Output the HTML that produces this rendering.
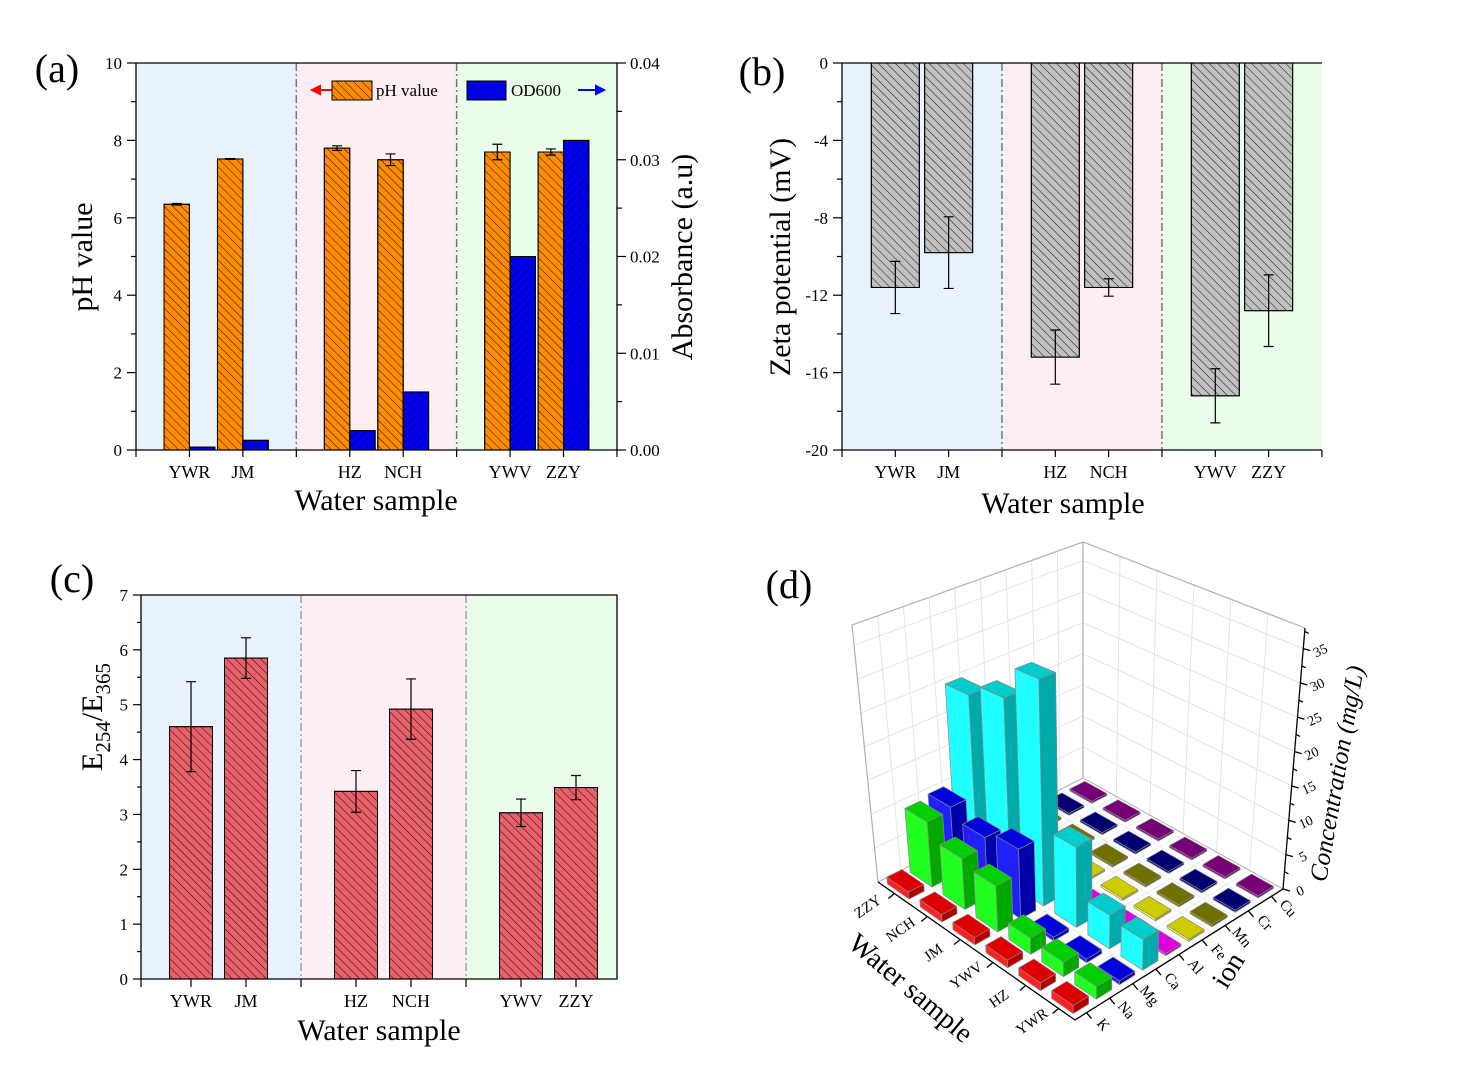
<!DOCTYPE html>
<html><head><meta charset="utf-8"><style>
html,body{margin:0;padding:0;background:#fff;}
svg{display:block;font-family:"Liberation Serif",serif;}
</style></head><body>
<svg id="chart" width="1463" height="1071" viewBox="0 0 1463 1071" xmlns="http://www.w3.org/2000/svg">
<defs>
<pattern id="hatchBack" patternUnits="userSpaceOnUse" width="6" height="6" patternTransform="rotate(-45)"><line x1="0" y1="0" x2="0" y2="6" stroke="#000" stroke-width="0.9"/></pattern>
<pattern id="hatchFwd" patternUnits="userSpaceOnUse" width="6" height="6" patternTransform="rotate(45)"><line x1="0" y1="0" x2="0" y2="6" stroke="#000040" stroke-width="0.9"/></pattern>
</defs>
</svg>
<script>
// ---------- data ----------
const samples2d = ['YWR','JM','HZ','NCH','YWV','ZZY'];
const catSlots = [1,2,4,5,7,8];
const phValues = [6.35,7.52,7.8,7.5,7.7,7.7];
const phErr = [0.02,0.01,0.06,0.15,0.2,0.08];
const odValues = [0.0003,0.001,0.002,0.006,0.02,0.032];
const phTicks = [0,2,4,6,8,10];
const odTicks = [0,0.01,0.02,0.03,0.04];
const zetaValues = [-11.6,-9.8,-15.2,-11.6,-17.2,-12.8];
const zetaErr = [1.35,1.85,1.4,0.45,1.4,1.85];
const zetaTicks = [0,-4,-8,-12,-16,-20];
const eRatioValues = [4.6,5.85,3.42,4.92,3.03,3.49];
const eRatioErr = [0.82,0.37,0.38,0.55,0.25,0.22];
const eRatioTicks = [0,1,2,3,4,5,6,7];
const samples3d = ['YWR','HZ','YWV','JM','NCH','ZZY'];
const ions = ['K','Na','Mg','Ca','Al','Fe','Mn','Cr','Cu'];
const concK  = [1,1,1,1,1,1];
const concNa = [1.6,1.9,2.2,6.3,7.2,9.5];
const concMg = [0.5,0.5,0.5,9.7,8.5,10];
const concCa = [4,4.5,11,32,27,25];
const concAl = [0.3,0.3,0.3,0.3,0.3,0.3];
const concFe = [0.3,0.3,0.3,0.3,0.3,0.3];
const concMn = [0.3,0.3,0.3,0.3,0.3,0.3];
const concCr = [0.3,0.3,0.3,0.3,0.3,0.3];
const concCu = [0.3,0.3,0.3,0.3,0.3,0.3];
const zTicks = [0,5,10,15,20,25,30,35];

const NS='http://www.w3.org/2000/svg';
const svg=document.getElementById('chart');
function mk(tag,parent,attrs,txt){const e=document.createElementNS(NS,tag);for(const k in attrs)e.setAttribute(k,attrs[k]);if(txt!==undefined)e.textContent=txt;parent.appendChild(e);return e;}
function grp(name){const g=mk('g',svg,{});


return g;}

function panel2d(o){
  const g=grp(o.name);
  const X=p=>o.x0+(p-o.p0)*o.unit;
  const bgCols=['#e8f2fd','#fdeef5','#eafdea'];
  const bgEdges=[o.left,X(3),X(6),o.right];
  for(let k=0;k<3;k++){const r=mk('rect',g,{x:bgEdges[k],y:o.top,width:bgEdges[k+1]-bgEdges[k],height:o.bottom-o.top,fill:bgCols[k]});
    
    }
  [3,6].forEach(p=>{const l=mk('line',g,{x1:X(p),x2:X(p),y1:o.top,y2:o.bottom,stroke:'#777','stroke-width':o.divW,'stroke-dasharray':'8,3,2,3'});
    
    });
  return {g,X};
}
function errBar(g,x,y1,y2){
  const e=mk('path',g,{d:`M${x},${y1}V${y2}M${x-5},${y1}H${x+5}M${x-5},${y2}H${x+5}`,stroke:'#000','stroke-width':1.2,fill:'none'});
  
  
}
function txt(parent,x,y,s,size,anchor,name,extra){
  const t=mk('text',parent,Object.assign({x:x,y:y,'font-size':size,'text-anchor':anchor||'middle',fill:'#000'},extra||{}),s);
  
  
  return t;
}

// ===== Panel (a) =====
(function(){
  const o={name:'panel-a',x0:136,p0:0,unit:53.44,left:136,right:617,top:63,bottom:450,divW:1.5};
  const {g,X}=panel2d(o);
  const Y=v=>450-v/10*387;
  const Y2=v=>450-v/0.04*387;
  const bw=25.4;
  samples2d.forEach((s,k)=>{
    const c=X(catSlots[k]);
    [['#ff8c00','hatchBack',Y(phValues[k]),'ph-bar'],['#0000ee','hatchFwd',Y2(odValues[k]),'od600-bar']].forEach((b,j)=>{
      const x=j===0?c-bw:c;
      const r=mk('rect',g,{x:x,y:b[2],width:bw,height:450-b[2],fill:b[0],stroke:'#000','stroke-width':1});
      
      
      const h=mk('rect',g,{x:x,y:b[2],width:bw,height:450-b[2],fill:'url(#'+b[1]+')',stroke:'#000','stroke-width':1});
      
      
    });
    errBar(g,c-bw/2,Y(phValues[k]+phErr[k]),Y(phValues[k]-phErr[k]));
    txt(g,c,478,s,18,'middle','x-tick-label');
  });
  const ax=mk('path',g,{d:'M136,63V450H617V63M136,63H617',stroke:'#000','stroke-width':1.3,fill:'none'});
  
  
  for(let v=0;v<=10;v+=1){const l=mk('line',g,{x1:136,x2:v%2?131:127,y1:Y(v),y2:Y(v),stroke:'#000','stroke-width':1.2});
    
    }
  phTicks.forEach(v=>txt(g,122,Y(v)+6,String(v),17,'end','y-tick-label'));
  for(let v=0;v<=0.04001;v+=0.005){const l=mk('line',g,{x1:617,x2:Math.round(v*1000)%10?622:626,y1:Y2(v),y2:Y2(v),stroke:'#000','stroke-width':1.2});
    
    }
  odTicks.forEach(v=>txt(g,630,Y2(v)+6,v.toFixed(2),17,'start','y2-tick-label'));
  for(let p=0;p<=9;p++){const l=mk('line',g,{x1:X(p),x2:X(p),y1:450,y2:457,stroke:'#000','stroke-width':1.2});
    
    }
  txt(g,376,510,'Water sample',30,'middle','x-axis-title');
  txt(g,0,0,'pH value',30,'middle','y-axis-title',{transform:'translate(92,257) rotate(-90)'});
  txt(g,0,0,'Absorbance (a.u)',30,'middle','y2-axis-title',{transform:'translate(692,257) rotate(-90)'});
  txt(g,57,82,'(a)',40,'middle','panel-label');
  const lg=mk('g',g,{});
  
  
  const a1=mk('path',lg,{d:'M332,90H312M312,90l8,-4v8z',stroke:'#f00','stroke-width':2,fill:'#f00'});
  
  
  const b1=mk('rect',lg,{x:332,y:81,width:40,height:19,fill:'#ff8c00',stroke:'#000'});
  
  
  const b1h=mk('rect',lg,{x:332,y:81,width:40,height:19,fill:'url(#hatchBack)',stroke:'#000'});
  
  
  txt(lg,376,96,'pH value',17,'start','legend-entry-ph');
  const b2=mk('rect',lg,{x:467,y:81,width:39,height:19,fill:'#0000ee',stroke:'#000'});
  
  
  const b2h=mk('rect',lg,{x:467,y:81,width:39,height:19,fill:'url(#hatchFwd)',stroke:'#000'});
  
  
  txt(lg,511,96,'OD600',17,'start','legend-entry-od600');
  const a2=mk('path',lg,{d:'M578,90H604M604,90l-8,-4v8z',stroke:'#00f','stroke-width':2,fill:'#00f'});
  
  
})();

// ===== Panel (b) =====
(function(){
  const o={name:'panel-b',x0:842,p0:0,unit:53.33,left:842,right:1322,top:63,bottom:450,divW:1.5};
  const {g,X}=panel2d(o);
  const Y=v=>63+(-v)/20*387;
  const bw=48;
  samples2d.forEach((s,k)=>{
    const c=X(catSlots[k]);const y=Y(zetaValues[k]);
    const r=mk('rect',g,{x:c-bw/2,y:63,width:bw,height:y-63,fill:'#c0c0c0',stroke:'#000','stroke-width':1});
    
    
    const h=mk('rect',g,{x:c-bw/2,y:63,width:bw,height:y-63,fill:'url(#hatchBack)',stroke:'#000','stroke-width':1});
    
    
    errBar(g,c,Y(zetaValues[k]+zetaErr[k]),Y(zetaValues[k]-zetaErr[k]));
    txt(g,c,478,s,18,'middle','x-tick-label');
  });
  const ax=mk('path',g,{d:'M1322,63H842V450H1322',stroke:'#000','stroke-width':1.3,fill:'none'});
  
  
  for(let v=0;v>=-20;v-=2){const l=mk('line',g,{x1:842,x2:v%4?837:833,y1:Y(v),y2:Y(v),stroke:'#000','stroke-width':1.2});
    
    }
  zetaTicks.forEach(v=>txt(g,828,Y(v)+6,String(v),17,'end','y-tick-label'));
  for(let p=0;p<=9;p++){const l=mk('line',g,{x1:X(p),x2:X(p),y1:450,y2:457,stroke:'#000','stroke-width':1.2});
    
    }
  txt(g,1063,513,'Water sample',30,'middle','x-axis-title');
  txt(g,0,0,'Zeta potential (mV)',30,'middle','y-axis-title',{transform:'translate(790,257) rotate(-90)'});
  txt(g,762,85,'(b)',40,'middle','panel-label');
})();

// ===== Panel (c) =====
(function(){
  const o={name:'panel-c',x0:191,p0:1,unit:55,left:141,right:617,top:595,bottom:979,divW:1};
  const {g,X}=panel2d(o);
  const Y=v=>979-v/7*384;
  const bw=43;
  samples2d.forEach((s,k)=>{
    const c=X(catSlots[k]);const y=Y(eRatioValues[k]);
    const r=mk('rect',g,{x:c-bw/2,y:y,width:bw,height:979-y,fill:'#e8606a',stroke:'#000','stroke-width':1});
    
    
    const h=mk('rect',g,{x:c-bw/2,y:y,width:bw,height:979-y,fill:'url(#hatchBack)',stroke:'#000','stroke-width':1});
    
    
    errBar(g,c,Y(eRatioValues[k]+eRatioErr[k]),Y(eRatioValues[k]-eRatioErr[k]));
    txt(g,c,1007,s,18,'middle','x-tick-label');
  });
  const ax=mk('path',g,{d:'M141,595V979H617V595H141',stroke:'#000','stroke-width':1.3,fill:'none'});
  
  
  for(let v=0;v<=7;v+=0.5){const l=mk('line',g,{x1:141,x2:v%1?137:133,y1:Y(v),y2:Y(v),stroke:'#000','stroke-width':1.2});
    
    }
  eRatioTicks.forEach(v=>txt(g,128,Y(v)+6,String(v),17,'end','y-tick-label'));
  [141,X(1),X(2),X(3),X(4),X(5),X(6),X(7),X(8)].forEach(x=>{const l=mk('line',g,{x1:x,x2:x,y1:979,y2:987,stroke:'#000','stroke-width':1.2});
    
    });
  txt(g,379,1040,'Water sample',30,'middle','x-axis-title');
  const t=mk('text',g,{'font-size':30,'text-anchor':'middle'});
  
  
  t.innerHTML='E<tspan font-size="21" dy="8">254</tspan><tspan dy="-8">/E</tspan><tspan font-size="21" dy="8">365</tspan>';
  t.setAttribute('transform','translate(102,717) rotate(-90)');
  txt(g,72,592,'(c)',40,'middle','panel-label');
})();

// ===== Panel (d) 3D =====
(function(){
  const g=grp('panel-d');
  const F=[1075,1020],L=[878,882],R=[1283,889],B=[1083,778];
  const Ft=[1074,711],Lt=[852,625],Rt=[1305,628],Bt=[1083,542];
  const NW=6,NI=9,ZMAX=38;
  function bil(P00,P10,P01,P11,a,b){return [P00[0]*(1-a)*(1-b)+P10[0]*a*(1-b)+P01[0]*(1-a)*b+P11[0]*a*b,P00[1]*(1-a)*(1-b)+P10[1]*a*(1-b)+P01[1]*(1-a)*b+P11[1]*a*b];}
  function P(w,i,z){const a=w/NW,b=i/NI;const f=bil(F,L,R,B,a,b),t=bil(Ft,Lt,Rt,Bt,a,b);const s=z/ZMAX;return [f[0]+(t[0]-f[0])*s,f[1]+(t[1]-f[1])*s];}
  const pts=a=>a.map(p=>p[0].toFixed(1)+','+p[1].toFixed(1)).join(' ');
  const wall=mk('g',g,{});
  
  
  for(let z=5;z<=35;z+=5){
    mk('polyline',wall,{points:pts([P(0,NI,z),P(NW,NI,z),P(NW,0,z)]),fill:'none',stroke:'#e4e4e4','stroke-width':1});
  }
  for(let w=1;w<NW;w++){mk('line',wall,{x1:P(w,NI,0)[0],y1:P(w,NI,0)[1],x2:P(w,NI,ZMAX)[0],y2:P(w,NI,ZMAX)[1],stroke:'#e4e4e4'});
    mk('line',wall,{x1:P(w,0,0)[0],y1:P(w,0,0)[1],x2:P(w,NI,0)[0],y2:P(w,NI,0)[1],stroke:'#ececec'});}
  for(let i=1;i<NI;i++){mk('line',wall,{x1:P(NW,i,0)[0],y1:P(NW,i,0)[1],x2:P(NW,i,ZMAX)[0],y2:P(NW,i,ZMAX)[1],stroke:'#e4e4e4'});
    mk('line',wall,{x1:P(0,i,0)[0],y1:P(0,i,0)[1],x2:P(NW,i,0)[0],y2:P(NW,i,0)[1],stroke:'#ececec'});}
  mk('polyline',wall,{points:pts([P(NW,0,0),P(NW,0,ZMAX),P(NW,NI,ZMAX),P(0,NI,ZMAX)]),fill:'none',stroke:'#b0b0b0','stroke-width':1.2});
  mk('polyline',wall,{points:pts([P(NW,0,0),P(NW,NI,0),P(0,NI,0)]),fill:'none',stroke:'#b0b0b0','stroke-width':1});
  mk('line',wall,{x1:P(NW,NI,0)[0],y1:P(NW,NI,0)[1],x2:P(NW,NI,ZMAX)[0],y2:P(NW,NI,ZMAX)[1],stroke:'#b0b0b0','stroke-width':1.2});
  const allConc=[concK,concNa,concMg,concCa,concAl,concFe,concMn,concCr,concCu];
  const cols=[['#ff2020','#dd0000','#b00000'],['#20ff20','#00d000','#00a800'],['#2020ff','#0000d8','#0000a8'],['#20ffff','#00cccc','#00aaaa'],['#ff20ff','#dd00dd','#aa00aa'],['#ffff30','#cccc00','#aaaa00'],['#8a8a10','#707000','#5a5a00'],['#101090','#000070','#000058'],['#901090','#760076','#5c005c']];
  const bars=[];
  ions.forEach((ion,ii)=>samples3d.forEach((s,wi)=>bars.push({ii,wi,v:allConc[ii][wi]})));
  bars.sort((a,b)=>P(a.wi+0.5,a.ii+0.5,0)[1]-P(b.wi+0.5,b.ii+0.5,0)[1]);
  bars.forEach(b=>{
    const w0=b.wi+0.17,w1=b.wi+0.83,i0=b.ii+0.17,i1=b.ii+0.83,z=b.v;const c=cols[b.ii];
    const bg=mk('g',g,{stroke:'#888','stroke-width':0.7,'stroke-linejoin':'round'});
    
    
    mk('polygon',bg,{points:pts([P(w0,i0,0),P(w1,i0,0),P(w1,i0,z),P(w0,i0,z)]),fill:c[0]});
    mk('polygon',bg,{points:pts([P(w0,i0,0),P(w0,i1,0),P(w0,i1,z),P(w0,i0,z)]),fill:c[2]});
    mk('polygon',bg,{points:pts([P(w0,i0,z),P(w1,i0,z),P(w1,i1,z),P(w0,i1,z)]),fill:c[1]});
  });
  const ax=mk('g',g,{stroke:'#000','stroke-width':1.3,fill:'none'});
  
  
  mk('polyline',ax,{points:pts([L,F,R])});
  mk('line',ax,{x1:R[0],y1:R[1],x2:Rt[0],y2:Rt[1]});
  samples3d.forEach((s,w)=>{const p=P(w+0.5,0,0);mk('line',ax,{x1:p[0],y1:p[1],x2:p[0]-6,y2:p[1]+5});
    txt(g,0,0,s,15,'middle','sample-tick-label',{transform:`translate(${p[0]-24},${p[1]+17}) rotate(-35)`});});
  ions.forEach((s,i)=>{const p=P(0,i+0.5,0);mk('line',ax,{x1:p[0],y1:p[1],x2:p[0]+5,y2:p[1]+6});
    txt(g,0,0,s,15,'middle','ion-tick-label',{transform:`translate(${p[0]+13},${p[1]+15}) rotate(50)`});});
  for(let z=0;z<=37.5;z+=2.5){const p=P(0,NI,z);mk('line',ax,{x1:p[0],y1:p[1],x2:p[0]+(z%5?4:7),y2:p[1]+2});}
  zTicks.forEach(z=>{const p=P(0,NI,z);txt(g,0,0,String(z),14,'middle','z-tick-label',{transform:`translate(${p[0]+19},${p[1]+6}) rotate(-25)`});});
  txt(g,0,0,'Water sample',28,'middle','x-axis-title',{transform:'translate(905,995) rotate(40)'});
  txt(g,0,0,'ion',28,'middle','y-axis-title',{transform:'translate(1236,975) rotate(-58)'});
  txt(g,0,0,'Concentration (mg/L)',25,'middle','z-axis-title',{transform:'translate(1345,775) rotate(-80)','font-style':'italic'});
  txt(g,789,598,'(d)',40,'middle','panel-label');
})();
</script>
</body></html>
